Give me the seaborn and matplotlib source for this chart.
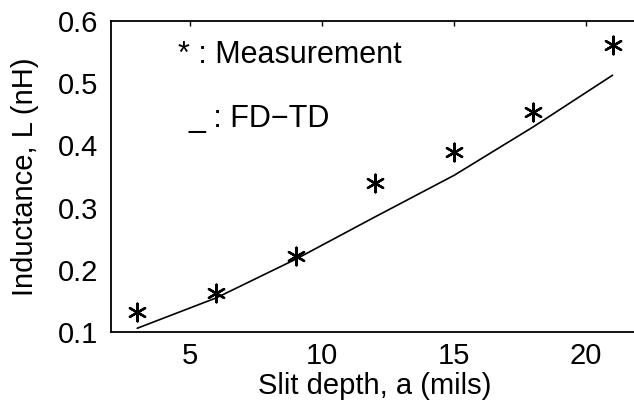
import numpy as np
import pandas as pd
import matplotlib
matplotlib.use("Agg")
import matplotlib.pyplot as plt
import seaborn as sns

# Data
meas_x = [3, 6, 9, 12, 15, 18, 21]
meas_y = [0.132, 0.162, 0.223, 0.340, 0.390, 0.454, 0.561]
fdtd_x = [3, 6, 9, 12, 15, 18, 21]
fdtd_y = [0.106, 0.155, 0.217, 0.285, 0.352, 0.430, 0.513]
x_ticks = [5, 10, 15, 20]
y_ticks = [0.1, 0.2, 0.3, 0.4, 0.5, 0.6]

sns.set_theme(style="white")
plt.rcParams['font.family'] = ['Liberation Sans', 'DejaVu Sans']

fig = plt.figure(figsize=(6.34, 4.09), dpi=100)
ax = fig.add_axes([0.1748, 0.1883, 0.833, 0.760])

df_m = pd.DataFrame({"x": meas_x, "y": meas_y})
df_f = pd.DataFrame({"x": fdtd_x, "y": fdtd_y})

sns.lineplot(data=df_f, x="x", y="y", ax=ax, color="black", linewidth=1.2, estimator=None)
sns.scatterplot(data=df_m, x="x", y="y", ax=ax, marker=(6, 2, 0), s=160,
                color="black", edgecolor="black", linewidth=1.7, zorder=3)

ax.set_xlim(2, 22)
ax.set_ylim(0.1, 0.6)
ax.set_xticks(x_ticks)
ax.set_yticks(y_ticks)
ax.set_yticklabels([f"{v:.1f}" for v in y_ticks])
ax.tick_params(direction="in", length=3.5, width=1, top=True, right=True,
               labelsize=21, colors="black")
ax.tick_params(axis="x", pad=7)
ax.tick_params(axis="y", pad=9)
for s in ax.spines.values():
    s.set_color("black")
    s.set_linewidth(1.3)

ax.set_xlabel("Slit depth, a (mils)", fontsize=21, labelpad=2, color="black")
ax.set_ylabel("Inductance, L (nH)", fontsize=21, labelpad=14, color="black")

ax.text(4.55, 0.532, "* : Measurement", fontsize=22,
        va="baseline", ha="left", color="black")
ax.text(4.95, 0.430, "_ : FD\u2212TD", fontsize=22,
        va="baseline", ha="left", color="black")

fig.savefig("out.png", dpi=100)
